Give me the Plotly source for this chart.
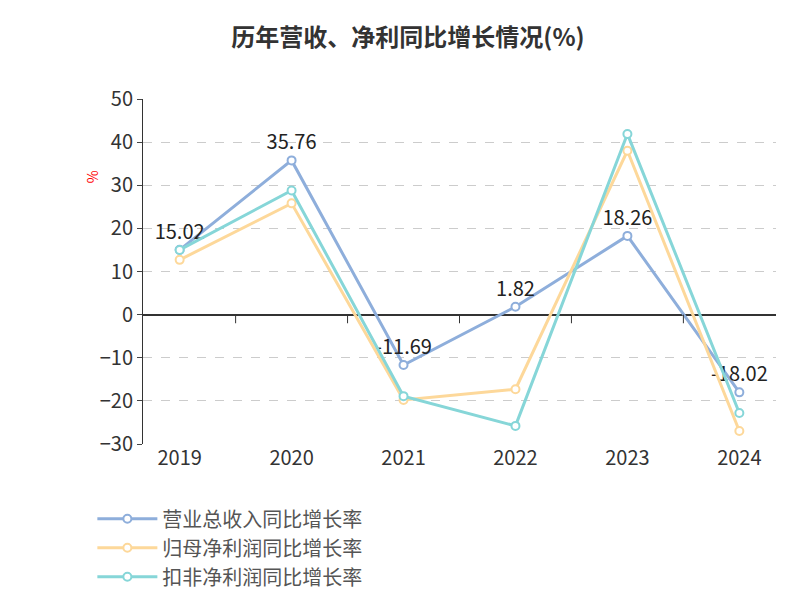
import plotly.graph_objects as go

years = ["2019", "2020", "2021", "2022", "2023", "2024"]
revenue_growth = [15.02, 35.76, -11.69, 1.82, 18.26, -18.02]
net_profit_growth = [12.7, 25.8, -19.8, -17.3, 38.0, -27.0]
deducted_profit_growth = [15.0, 28.8, -18.9, -25.8, 41.9, -22.8]

series = [
    ("营业总收入同比增长率", revenue_growth, "#8eaedb", True),
    ("归母净利润同比增长率", net_profit_growth, "#fdd89a", False),
    ("扣非净利润同比增长率", deducted_profit_growth, "#86d6d8", False),
]

fig = go.Figure()
for name, vals, color, labelled in series:
    fig.add_trace(go.Scatter(
        x=years, y=vals, name=name,
        mode="lines+markers+text" if labelled else "lines+markers",
        text=[f"{v:.2f}" for v in vals] if labelled else None,
        textposition="top center",
        textfont=dict(size=20, color="#222"),
        line=dict(color=color, width=3),
        marker=dict(size=8, color="white", line=dict(color=color, width=2)),
    ))

fig.update_layout(
    width=800, height=600,
    paper_bgcolor="white", plot_bgcolor="white",
    font=dict(family="Noto Sans CJK SC", color="#333"),
    title=dict(text="<b>历年营收、净利同比增长情况(%)</b>", x=0.5, y=0.965,
               font=dict(size=24, color="#333")),
    margin=dict(l=135, r=32, t=91, b=162),
    showlegend=True,
    legend=dict(orientation="h", x=-0.08, y=-0.16, xanchor="left", yanchor="top",
                font=dict(size=20, color="#555"), itemwidth=60,
                entrywidth=330, entrywidthmode="pixels", tracegroupgap=0),
    xaxis=dict(showline=False, ticks="", tickfont=dict(size=20, color="#333")),
    yaxis=dict(range=[-30, 50], dtick=10, showgrid=True, gridcolor="#ccc",
               griddash="dash", zeroline=True, zerolinecolor="#333",
               showline=True, linecolor="#333", ticks="outside",
               tickfont=dict(size=20, color="#333")),
    annotations=[
        dict(text="%", x=-0.1, y=0.8, xref="paper", yref="paper", textangle=-90,
             showarrow=False, font=dict(size=14, color="red")),
        dict(text="制图数据来自恒生聚源数据库", x=0.5, y=-0.535, xref="paper",
             yref="paper", showarrow=False, font=dict(size=15, color="#c8961e")),
    ],
)
for i in range(len(years) - 1):
    fig.add_shape(type="line", xref="x", yref="y", x0=i + 0.5, x1=i + 0.5,
                  y0=0, y1=-2, line=dict(color="#333", width=1))

fig.write_html("out.html")
